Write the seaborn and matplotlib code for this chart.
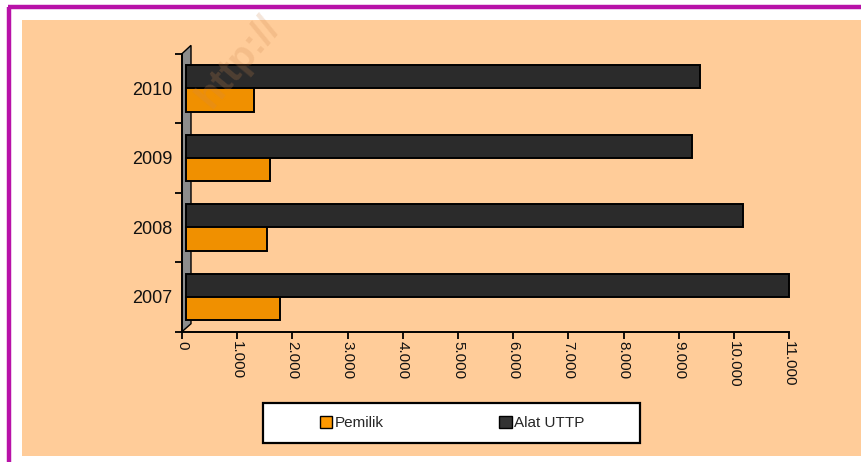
import matplotlib
matplotlib.use("Agg")
import matplotlib.pyplot as plt
import matplotlib.transforms as mtransforms
import seaborn as sns
import pandas as pd
import numpy as np
from matplotlib.patches import Rectangle, Polygon, Patch
from matplotlib.ticker import FixedLocator, FuncFormatter

# ---- data ----
years = ["2010", "2009", "2008", "2007"]          # top to bottom
series = ["Pemilik", "Alat UTTP"]
pemilik = [1230, 1530, 1470, 1700]
alat_uttp = [9310, 9160, 10080, 10920]
x_ticks = [0, 1000, 2000, 3000, 4000, 5000, 6000, 7000, 8000, 9000, 10000, 11000]

colors = {"Pemilik": "#F09000", "Alat UTTP": "#2B2B2B"}

df = pd.DataFrame({
    "year": years * 2,
    "series": ["Pemilik"] * len(years) + ["Alat UTTP"] * len(years),
    "value": pemilik + alat_uttp,
})

sns.set_theme(style="white")
plt.rcParams["font.family"] = ["Liberation Sans", "DejaVu Sans"]

W, H = 861, 462
fig = plt.figure(figsize=(W / 100, H / 100), dpi=100)
fig.patch.set_facecolor("white")

# peach chart area and magenta frame
fig.add_artist(Rectangle((22 / W, 1 - 456 / H), 1, 456 / H - 20 / H, transform=fig.transFigure,
                         facecolor="#FFCC99", edgecolor="none", zorder=-10))
fig.add_artist(plt.Line2D([9 / W, 9 / W], [0, 1 - 7 / H], transform=fig.transFigure,
                          color="#B812A8", lw=3.2, solid_capstyle="butt"))
fig.add_artist(plt.Line2D([7.5 / W, 1], [1 - 7 / H, 1 - 7 / H], transform=fig.transFigure,
                          color="#B812A8", lw=3.2, solid_capstyle="butt"))

left, right = 182.0 / W, 789.3 / W
bottom, top = 1 - 331.7 / H, 1 - 53.7 / H
ax = fig.add_axes([left, bottom, right - left, top - bottom])
ax.set_facecolor("none")

sns.barplot(data=df, y="year", x="value", hue="series", order=years,
            hue_order=["Alat UTTP", "Pemilik"], palette=colors, orient="h",
            width=0.67, gap=0, edgecolor="black", linewidth=1.4, saturation=1,
            errorbar=None, legend=False, ax=ax, zorder=3)

ax.set_xlim(0, 11000)
ax.set_ylim(3.5, -0.5)
ax.set_xlabel("")
ax.set_ylabel("")

# bars sit in front of the back wall: shift them a few pixels right
shift = mtransforms.ScaledTranslation(4 / 100, 0, fig.dpi_scale_trans)
for p in list(ax.patches):
    p.set_transform(ax.transData + shift)
    p.set_clip_on(False)

for s in ["top", "right"]:
    ax.spines[s].set_visible(False)
for s in ["left", "bottom"]:
    ax.spines[s].set_color("black")
    ax.spines[s].set_linewidth(1.4)
    ax.spines[s].set_zorder(4)

# back wall (3D look)
wall = Polygon([[0.0, 0.0], [9 / (right - left) / W, 8 / ((top - bottom) * H)],
                [9 / (right - left) / W, 1.03], [0.0, 1.0]],
               closed=True, transform=ax.transAxes, facecolor="#8C8C8C",
               edgecolor="black", linewidth=1.0, zorder=1, clip_on=False)
ax.add_patch(wall)

ax.xaxis.set_major_locator(FixedLocator(x_ticks))
ax.xaxis.set_major_formatter(FuncFormatter(lambda v, p: f"{int(v):,}".replace(",", ".")))
ax.tick_params(axis="x", which="major", direction="out", length=5, width=1.3,
               color="black", bottom=True, labelsize=11, pad=2, labelcolor="#111111")
for lbl in ax.get_xticklabels():
    lbl.set_rotation(270)
    lbl.set_va("top")
    lbl.set_ha("center")

ax.yaxis.set_minor_locator(FixedLocator([-0.5, 0.5, 1.5, 2.5, 3.5]))
ax.tick_params(axis="y", which="major", length=0, labelsize=13, pad=7, labelcolor="#111111")
ax.tick_params(axis="y", which="minor", direction="out", length=5, width=1.3,
               color="black", left=True)

# legend box
fig.add_artist(Rectangle((262.7 / W, 1 - 442.7 / H), (640 - 262.7) / W, 40 / H,
                         transform=fig.transFigure, facecolor="white",
                         edgecolor="black", linewidth=1.6, zorder=5))
handles = [Patch(facecolor=c, edgecolor="black", linewidth=1.0)
           for c in ["#FF9900", "#333333"]]
leg = fig.legend(handles, series, loc="center", bbox_to_anchor=(452 / W, 1 - 422.7 / H),
                 ncol=2, frameon=False, fontsize=11, handlelength=0.8,
                 handleheight=0.85, handletextpad=0.15, columnspacing=7.6)
leg.set_zorder(6)

# faint watermark on top
fig.text(238 / W, 1 - 62 / H, "http://", rotation=50, fontsize=28, fontweight="bold",
         color="#D08850", alpha=0.22, ha="center", va="center", zorder=20)

fig.savefig("out.png", dpi=100, facecolor=fig.get_facecolor())
